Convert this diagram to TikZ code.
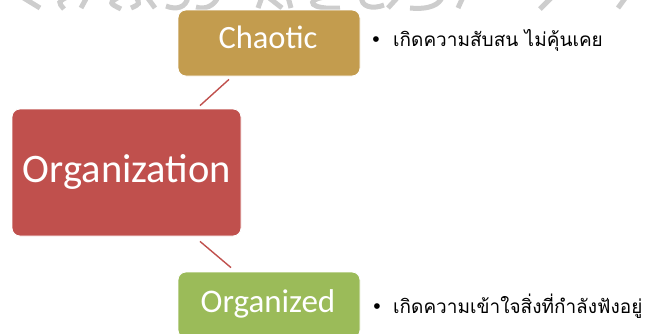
\documentclass[tikz,border=0pt]{standalone}
\usepackage{fontspec}
\setmainfont{Carlito}
\newfontfamily\thaifont[Script=Thai]{Loma}
\newfontfamily\bulletfont{Liberation Sans}
\usetikzlibrary{calc}
\definecolor{orgred}{HTML}{C0504D}
\definecolor{chaosgold}{HTML}{C39C4E}
\definecolor{ordergreen}{HTML}{9BBB59}
\definecolor{markgray}{HTML}{CDCDCD}
\tikzset{
  box/.style={rectangle, rounded corners=8pt, draw=white, line width=0.8pt, inner sep=0pt},
  boxtext/.style={text=white, anchor=base, inner sep=0pt},
  link/.style={draw=orgred, line width=1.4pt},
  note/.style={anchor=base west, inner sep=0pt, font=\thaifont\fontsize{19}{22}\selectfont},
  dot/.style={anchor=base, inner sep=0pt, font=\bulletfont\fontsize{21}{24}\selectfont},
  logostroke/.style={draw=markgray, line width=5pt, line cap=butt},
}
\begin{document}
\begin{tikzpicture}[x=1pt, y=-1pt]
\useasboundingbox (0,0) rectangle (649,333);
\clip (0,0) rectangle (649,333);

% faint logo strokes along the top edge
\draw[logostroke] (22,-3) -- (40,8);
\draw[logostroke] (67,-3) .. controls (58,2) .. (64,9);
\draw[logostroke] (87,-3) -- (81,8);
\draw[logostroke] (119,-3) .. controls (109,3) .. (121,9);
\draw[logostroke] (131,8) .. controls (140,4) .. (136,-3);
\draw[logostroke] (147,-3) -- (155,8);
\draw[logostroke] (166,6) .. controls (176,10) and (186,8) .. (188,-3);
\draw[logostroke] (196,7) .. controls (205,10) and (214,6) .. (218,-3);
\draw[logostroke] (258,8) -- (262,-3);
\draw[logostroke] (268,-3) -- (282,8);
\draw[logostroke] (288,-3) -- (291,8);
\draw[logostroke] (325,-3) .. controls (304,0) and (310,10) .. (340,8);
\draw[logostroke] (362,-3) .. controls (360,6) and (372,10) .. (384,5);
\draw[logostroke] (388,8) -- (398,-3);
\draw[logostroke] (410,8) .. controls (430,10) and (440,4) .. (442,-3);
\draw[logostroke] (463,-3) -- (458,8);
\draw[logostroke] (552,-3) -- (540,9);
\draw[logostroke] (626,-3) -- (618,8);

% boxes
\node[box, fill=orgred, minimum width=229pt, minimum height=127pt] (org) at (126.5,172.5) {};
\node[box, fill=chaosgold, minimum width=182pt, minimum height=66pt] (chaotic) at (269,43) {};
\node[box, fill=ordergreen, minimum width=182pt, minimum height=66pt] (organized) at (269,305) {};

% box labels
\node[boxtext, font=\fontsize{40.5}{44}\selectfont] (orglbl) at (127,182) {Organization};
\node[boxtext, font=\fontsize{32.5}{36}\selectfont] (chaoticlbl) at (268,48) {Chaotic};
\node[boxtext, font=\fontsize{33}{36}\selectfont] (organizedlbl) at (268,312) {Organized};

% connectors
\draw[link] ($(chaotic.south)+(-40,3)$) -- ($(org.north)+(73.5,-3)$);
\draw[link] ($(org.south)+(73.5,5)$) -- ($(organized.north)+(-38,-4)$);

% notes
\node[dot] (b1) at (376,46) {•};
\node[note] (n1) at (393,46) {เกิดความสับสน ไม่คุ้นเคย};
\node[dot] (b2) at (377,313) {•};
\node[note] (n2) at (393,313) {เกิดความเข้าใจสิ่งที่กำลังฟังอยู่};
\end{tikzpicture}
\end{document}
